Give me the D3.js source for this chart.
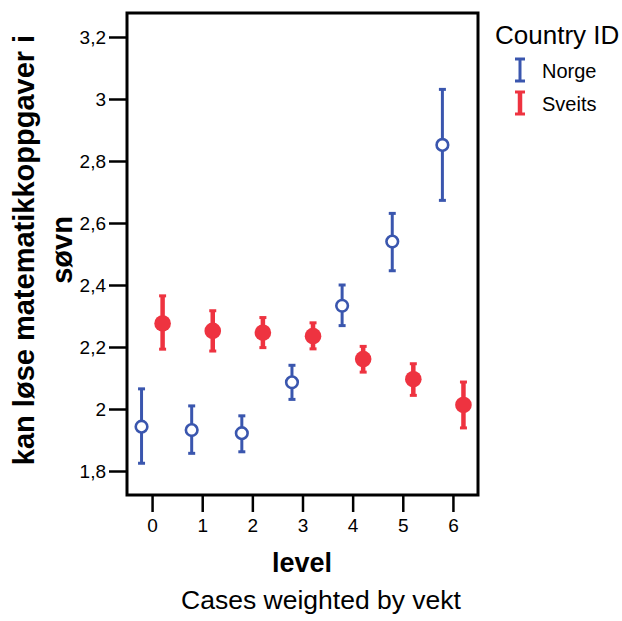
<!DOCTYPE html>
<html>
<head>
<meta charset="utf-8">
<style>
    body { margin: 0; background: #fff; }
    svg { font-family: 'Liberation Sans', Arial, sans-serif; }
    .axis .domain { display: none; }
    .axis .tick line { stroke: #000; stroke-width: 2.5; }
    .axis .tick text { font-size: 19px; fill: #000; }
    .title { font-weight: bold; fill: #000; }
</style>
</head>
<body>
<svg width="622" height="621"></svg>
<script src="https://d3js.org/d3.v7.min.js"></script>
<script>
    // values
    const levels = [0, 1, 2, 3, 4, 5, 6];
    const norgeMean = [1.943, 1.932, 1.922, 2.086, 2.333, 2.540, 2.852];
    const norgeLow  = [1.825, 1.857, 1.862, 2.031, 2.269, 2.446, 2.673];
    const norgeHigh = [2.065, 2.010, 1.978, 2.141, 2.400, 2.631, 3.031];
    const sveitsMean = [2.276, 2.252, 2.246, 2.235, 2.161, 2.096, 2.013];
    const sveitsLow  = [2.193, 2.187, 2.198, 2.194, 2.119, 2.044, 1.939];
    const sveitsHigh = [2.365, 2.317, 2.295, 2.278, 2.202, 2.146, 2.087];
    const yTicks = [1.8, 2, 2.2, 2.4, 2.6, 2.8, 3, 3.2];
    const countries = ["Norge", "Sveits"];

    const blue = "#3a56ae";
    const red = "#ee3340";

    let svg = d3.select("svg");

    let frame = { left: 127, right: 478, top: 13, bottom: 495 };

    let x = d3.scaleLinear()
        .domain([-0.5, 6.5])
        .range([frame.left, frame.right]);

    let y = d3.scaleLinear()
        .domain([1.7226, 3.2774])
        .range([frame.bottom, frame.top]);

    let offset = 0.21; // dodge for the two countries

    let series = [
        { name: countries[0], color: blue, mean: norgeMean, low: norgeLow, high: norgeHigh, dx: -offset },
        { name: countries[1], color: red, mean: sveitsMean, low: sveitsLow, high: sveitsHigh, dx: offset }
    ];

    // axes
    svg.append("g")
        .attr("class", "y axis")
        .attr("transform", `translate(${frame.left - 1}, 0)`)
        .call(d3.axisLeft(y)
            .tickValues(yTicks)
            .tickSize(17)
            .tickPadding(3)
            .tickFormat(d => d3.format("")(+d.toFixed(1)).replace(".", ",")));

    svg.append("g")
        .attr("class", "x axis")
        .attr("transform", `translate(0, ${frame.bottom})`)
        .call(d3.axisBottom(x)
            .tickValues(levels)
            .tickSize(17)
            .tickPadding(7)
            .tickFormat(d3.format("d")));

    // frame
    svg.append("rect")
        .attr("x", frame.left)
        .attr("y", frame.top)
        .attr("width", frame.right - frame.left)
        .attr("height", frame.bottom - frame.top)
        .attr("fill", "none")
        .attr("stroke", "#000")
        .attr("stroke-width", 3);

    // error bars + means
    series.forEach(s => {
        let g = svg.append("g");
        let isRed = s.name == "Sveits";
        let bw = isRed ? 4.5 : 3;
        let capW = 7;
        levels.forEach((lv, i) => {
            let cx = x(lv + s.dx);
            g.append("line")
                .attr("x1", cx).attr("x2", cx)
                .attr("y1", y(s.low[i])).attr("y2", y(s.high[i]))
                .attr("stroke", s.color)
                .attr("stroke-width", bw);
            [s.low[i], s.high[i]].forEach(v => {
                g.append("line")
                    .attr("x1", cx - capW / 2).attr("x2", cx + capW / 2)
                    .attr("y1", y(v)).attr("y2", y(v))
                    .attr("stroke", s.color)
                    .attr("stroke-width", 3);
            });
            if (isRed) {
                g.append("circle")
                    .attr("cx", cx).attr("cy", y(s.mean[i]))
                    .attr("r", 8.3)
                    .attr("fill", s.color);
            } else {
                g.append("circle")
                    .attr("cx", cx).attr("cy", y(s.mean[i]))
                    .attr("r", 5.8)
                    .attr("fill", "#fff")
                    .attr("stroke", s.color)
                    .attr("stroke-width", 2.6);
            }
        });
    });

    // axis titles
    svg.append("text")
        .attr("class", "title")
        .attr("x", 302)
        .attr("y", 572)
        .attr("text-anchor", "middle")
        .style("font-size", "27px")
        .text("level");

    svg.append("text")
        .attr("x", 321)
        .attr("y", 609)
        .attr("text-anchor", "middle")
        .style("font-size", "26.5px")
        .text("Cases weighted by vekt");

    let yTitle = svg.append("text")
        .attr("class", "title")
        .attr("transform", "translate(0, 250) rotate(-90)")
        .attr("text-anchor", "middle")
        .style("font-size", "29px");
    yTitle.append("tspan").attr("x", 0).attr("y", 34).text("kan løse matematikkoppgaver i");
    yTitle.append("tspan").attr("x", 0).attr("y", 72).text("søvn");

    // legend
    svg.append("text")
        .attr("x", 495)
        .attr("y", 44)
        .style("font-size", "26px")
        .text("Country ID");

    let legend = svg.append("g")
        .selectAll("g")
        .data(series)
        .join("g")
        .attr("transform", (d, i) => `translate(520, ${70 + i * 33})`);

    legend.append("line")
        .attr("x1", 0).attr("x2", 0)
        .attr("y1", -11).attr("y2", 11)
        .attr("stroke", d => d.color)
        .attr("stroke-width", d => d.name == "Sveits" ? 4.5 : 3);
    legend.selectAll(".cap")
        .data(d => [{ c: d.color, v: -11 }, { c: d.color, v: 11 }])
        .join("line")
        .attr("class", "cap")
        .attr("x1", -5).attr("x2", 5)
        .attr("y1", d => d.v).attr("y2", d => d.v)
        .attr("stroke", d => d.c)
        .attr("stroke-width", 3);
    legend.append("text")
        .attr("x", 22)
        .attr("y", 8)
        .style("font-size", "20px")
        .text(d => d.name);
</script>
</body>
</html>
